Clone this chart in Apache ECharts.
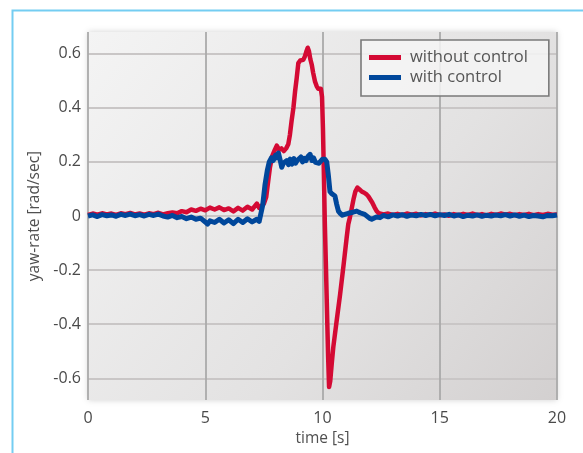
<!DOCTYPE html>
<html>
<head>
<meta charset="utf-8">
<script src="https://cdn.jsdelivr.net/npm/echarts@6/dist/echarts.min.js"></script>
<style>
html,body{margin:0;padding:0;background:#fff;}
#c{width:583px;height:453px;}
</style>
</head>
<body>
<div id="c"></div>
<script>
const seriesNames = ['without control', 'with control'];
const xTicks = [0, 5, 10, 15, 20];
const yTicks = [-0.6, -0.4, -0.2, 0, 0.2, 0.4, 0.6];

const redT = [0,0.2,0.4,0.6,0.8,1.0,1.2,1.4,1.6,1.8,2.0,2.2,2.4,2.6,2.8,3.0,3.2,3.4,3.6,3.8,4.0,4.2,4.4,4.6,4.8,5.0,5.2,5.4,5.6,5.8,6.0,6.2,6.4,6.6,6.8,7.0,7.2,7.3,7.4,7.5,7.6,7.65,7.7,7.76,7.85,7.97,8.05,8.15,8.25,8.35,8.45,8.54,8.61,8.68,8.76,8.83,8.9,8.97,9.05,9.12,9.18,9.25,9.32,9.37,9.42,9.48,9.54,9.6,9.68,9.75,9.82,9.88,9.93,9.98,10.02,10.06,10.1,10.15,10.2,10.24,10.28,10.33,10.4,10.46,10.6,10.75,10.9,11.03,11.1,11.17,11.25,11.33,11.4,11.49,11.58,11.68,11.78,11.88,11.96,12.03,12.12,12.22,12.31,12.4,12.6,12.8,13.0,13.2,13.4,13.6,13.8,14.0,14.2,14.4,14.6,14.8,15.0,15.2,15.4,15.6,15.8,16.0,16.2,16.4,16.6,16.8,17.0,17.2,17.4,17.6,17.8,18.0,18.2,18.4,18.6,18.8,19.0,19.2,19.4,19.6,19.8,20.0];
const redV = [0.004,0.009,0.005,0.010,0.006,0.009,0.004,0.010,0.007,0.011,0.006,0.009,0.005,0.010,0.007,0.012,0.006,0.010,0.013,0.010,0.018,0.014,0.024,0.019,0.027,0.021,0.031,0.024,0.032,0.022,0.028,0.017,0.030,0.020,0.034,0.024,0.046,0.030,0.038,0.045,0.070,0.105,0.14,0.18,0.22,0.245,0.26,0.245,0.25,0.24,0.25,0.265,0.30,0.35,0.40,0.46,0.51,0.565,0.575,0.57,0.577,0.59,0.61,0.622,0.61,0.58,0.56,0.53,0.497,0.48,0.47,0.475,0.47,0.44,0.32,0.15,-0.03,-0.2,-0.38,-0.52,-0.632,-0.61,-0.54,-0.485,-0.39,-0.29,-0.18,-0.08,-0.03,-0.005,0.03,0.065,0.09,0.105,0.098,0.09,0.086,0.08,0.072,0.066,0.05,0.032,0.018,0.010,0.006,0.009,0.004,0.008,0.003,0.009,0.005,0.008,0.002,0.007,0.004,0.009,0.003,0.006,0.001,0.007,0.003,0.008,0.004,0.009,0.003,0.007,0.002,0.008,0.004,0.009,0.005,0.008,0.003,0.007,0.004,0.008,0.003,0.007,0.004,0.008,0.005,0.006];

const blueT = [0,0.2,0.4,0.6,0.8,1.0,1.2,1.4,1.6,1.8,2.0,2.2,2.4,2.6,2.8,3.0,3.2,3.4,3.6,3.8,4.0,4.2,4.4,4.6,4.8,5.0,5.1,5.2,5.4,5.6,5.8,6.0,6.2,6.4,6.6,6.8,7.0,7.2,7.3,7.35,7.45,7.55,7.65,7.73,7.82,7.9,8.0,8.06,8.12,8.2,8.26,8.33,8.4,8.48,8.55,8.62,8.7,8.78,8.85,8.92,9.0,9.08,9.15,9.22,9.3,9.38,9.47,9.55,9.62,9.7,9.78,9.85,9.92,10.0,10.1,10.18,10.25,10.32,10.4,10.47,10.53,10.6,10.68,10.75,10.85,10.95,11.1,11.3,11.46,11.6,11.8,12.0,12.1,12.3,12.45,12.6,12.8,13.0,13.2,13.4,13.6,13.8,14.0,14.2,14.4,14.6,14.8,15.0,15.2,15.4,15.6,15.8,16.0,16.2,16.4,16.6,16.8,17.0,17.2,17.4,17.6,17.8,18.0,18.2,18.4,18.6,18.8,19.0,19.2,19.4,19.6,19.8,20.0];
const blueV = [0.000,0.004,-0.002,0.005,0.001,0.004,-0.001,0.006,0.002,0.007,0.001,0.005,0.000,0.006,0.002,0.007,0.000,-0.004,0.002,-0.006,-0.002,-0.010,-0.004,-0.012,-0.008,-0.022,-0.030,-0.018,-0.024,-0.012,-0.026,-0.014,-0.028,-0.012,-0.024,-0.010,-0.022,-0.012,-0.020,0.000,0.04,0.117,0.17,0.20,0.215,0.205,0.225,0.215,0.233,0.205,0.18,0.195,0.188,0.205,0.19,0.21,0.192,0.212,0.195,0.205,0.198,0.218,0.2,0.213,0.205,0.22,0.228,0.205,0.215,0.198,0.205,0.195,0.2,0.21,0.21,0.2,0.15,0.09,0.082,0.078,0.074,0.045,0.018,0.010,0.003,0.006,0.010,0.014,0.018,0.012,0.006,-0.008,-0.012,-0.004,-0.006,0.002,-0.003,0.004,0.000,0.005,-0.001,0.004,0.001,0.006,0.002,0.006,0.001,0.005,0.002,0.006,0.000,0.004,-0.002,0.003,0.000,0.004,-0.001,0.003,0.000,0.004,0.001,0.005,0.000,0.004,-0.001,0.003,-0.002,0.002,0.000,-0.003,0.002,0.001,0.004];

const redData = redT.map((t, i) => [t, redV[i]]);
const blueData = blueT.map((t, i) => [t, blueV[i]]);

const FONT = '"Open Sans", "Noto Sans", sans-serif';
const chart = echarts.init(document.getElementById('c'), null, {renderer: 'canvas'});
chart.setOption({
  animation: false,
  backgroundColor: '#ffffff',
  graphic: [{
    type: 'polyline',
    shape: {points: [[12.5, 453], [12.5, 10.5], [583, 10.5]]},
    style: {stroke: '#74cdf2', lineWidth: 2, fill: null},
    z: 100
  }],
  grid: {
    left: 88, top: 32, right: 26, bottom: 53,
    show: true,
    borderWidth: 0,
    backgroundColor: {
      type: 'linear', x: 0, y: 0, x2: 1, y2: 1,
      colorStops: [{offset: 0, color: '#f4f4f4'}, {offset: 0.6, color: '#e3e2e2'}, {offset: 1, color: '#d3d0d0'}]
    },
    shadowColor: 'rgba(0,0,0,0.18)',
    shadowBlur: 6
  },
  legend: {
    orient: 'vertical',
    left: 361, top: 40,
    padding: [9, 21, 10, 8],
    itemGap: 3,
    itemWidth: 32, itemHeight: 5,
    icon: 'rect',
    borderColor: '#7a7a7a', borderWidth: 1.6,
    backgroundColor: 'rgba(244,244,244,0.85)',
    textStyle: {fontFamily: FONT, fontSize: 16.5, color: '#555555', lineHeight: 17, padding: [0, 0, 0, 4]},
    data: seriesNames
  },
  xAxis: {
    type: 'value', min: 0, max: 20, interval: 5,
    name: 'time [s]', nameLocation: 'middle', nameGap: 30,
    nameTextStyle: {fontFamily: FONT, fontSize: 15.5, color: '#505050'},
    axisLine: {show: false}, axisTick: {show: false},
    axisLabel: {fontFamily: FONT, fontSize: 16, color: '#4a4a4a', margin: 10, customValues: xTicks},
    splitLine: {show: true, lineStyle: {color: '#aaaaaa', width: 1.8}}
  },
  yAxis: {
    type: 'value', min: -0.68, max: 0.68,
    name: 'yaw-rate [rad/sec]', nameLocation: 'middle', nameGap: 42,
    nameTextStyle: {fontFamily: FONT, fontSize: 15.5, color: '#505050'},
    axisLine: {show: false},
    axisTick: {show: false, customValues: yTicks},
    axisLabel: {fontFamily: FONT, fontSize: 16, color: '#4a4a4a', margin: 7, customValues: yTicks,
      formatter: v => String(Math.round(v * 10) / 10)},
    splitLine: {show: true, lineStyle: {color: '#c9c6c6', width: 2}}
  },
  series: [
    {name: seriesNames[0], type: 'line', data: redData, showSymbol: false, symbol: 'none',
      lineStyle: {color: '#d40a34', width: 4.5, join: 'round'}, itemStyle: {color: '#d40a34'}, z: 3},
    {name: seriesNames[1], type: 'line', data: blueData, showSymbol: false, symbol: 'none',
      lineStyle: {color: '#00479b', width: 5, join: 'round'}, itemStyle: {color: '#00479b'}, z: 4}
  ]
});
</script>
</body>
</html>
